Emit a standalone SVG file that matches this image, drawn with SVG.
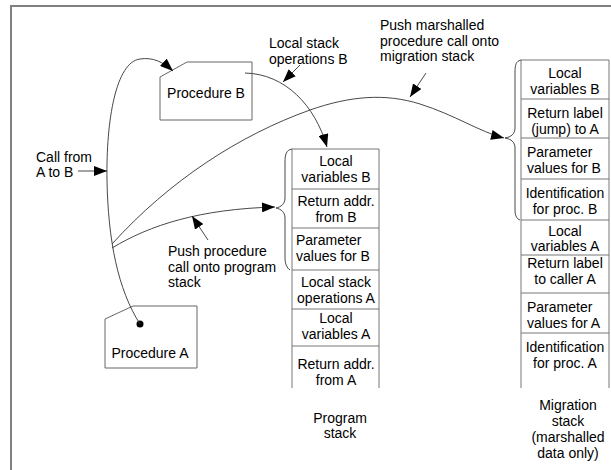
<svg xmlns="http://www.w3.org/2000/svg" width="611" height="470" viewBox="0 0 611 470">
<style>
text{font-family:"Liberation Sans",Arial,sans-serif;font-size:14px;fill:#000}
.c{text-anchor:middle}
.box{fill:#fff;stroke:#666;stroke-width:1}
.st{fill:none;stroke:#777;stroke-width:1}
.ln{fill:none;stroke:#333;stroke-width:0.9}
.ar{fill:none;stroke:#333;stroke-width:0.9;marker-end:url(#ah)}
</style>
<defs>
<marker id="ah" markerUnits="userSpaceOnUse" markerWidth="14" markerHeight="10" refX="13" refY="5" orient="auto">
<path d="M0,0 L13,5 L0,10 Z" fill="#000"/>
</marker>
</defs>
<rect width="611" height="470" fill="#fff"/>
<path d="M11,470 V6 H611" fill="none" stroke="#808080" stroke-width="2"/>

<g id="procedureB">
<polygon class="box" points="160,77 187,62 252,62 252,120 160,120"/>
<text class="c" x="206" y="98">Procedure B</text>
</g>
<g id="procedureA">
<polygon class="box" points="105,319 133,306 197,306 197,368 105,368"/>
<text class="c" x="150" y="358">Procedure A</text>
<circle cx="140" cy="324" r="3.5" fill="#000"/>
</g>

<g id="programStack">
<path class="st" d="M292,388 V149 H379 V388 M292,189 H379 M292,228 H379 M292,270 H379 M292,309 H379 M292,346 H379"/>
<text class="c" x="336" y="166">Local</text>
<text class="c" x="336" y="182">variables B</text>
<text class="c" x="336" y="206">Return addr.</text>
<text class="c" x="336" y="222">from B</text>
<text x="296" y="245">Parameter</text>
<text x="296" y="261">values for B</text>
<text class="c" x="336" y="287">Local stack</text>
<text class="c" x="336" y="303">operations A</text>
<text class="c" x="336" y="323">Local</text>
<text class="c" x="336" y="339">variables A</text>
<text class="c" x="336" y="369">Return addr.</text>
<text class="c" x="336" y="385">from A</text>
<text class="c" x="340" y="423">Program</text>
<text class="c" x="340" y="438">stack</text>
</g>

<g id="migrationStack">
<path class="st" d="M521,388 V60 H609 V388 M521,99 H609 M521,138 H609 M521,179 H609 M521,220 H609 M521,255 H609 M521,293 H609 M521,333 H609"/>
<text class="c" x="565" y="78">Local</text>
<text class="c" x="565" y="94">variables B</text>
<text class="c" x="565" y="118">Return label</text>
<text class="c" x="565" y="134">(jump) to A</text>
<text x="527" y="157">Parameter</text>
<text x="527" y="173">values for B</text>
<text class="c" x="565" y="198">Identification</text>
<text class="c" x="565" y="214">for proc. B</text>
<text class="c" x="565" y="236">Local</text>
<text class="c" x="565" y="251">variables A</text>
<text class="c" x="565" y="268">Return label</text>
<text class="c" x="565" y="284">to caller A</text>
<text x="527" y="312">Parameter</text>
<text x="527" y="328">values for A</text>
<text class="c" x="565" y="352">Identification</text>
<text class="c" x="565" y="368">for proc. A</text>
<text class="c" x="568" y="410">Migration</text>
<text class="c" x="568" y="426">stack</text>
<text class="c" x="568" y="442">(marshalled</text>
<text class="c" x="568" y="458">data only)</text>
</g>

<g id="labels">
<text x="269" y="48">Local stack</text>
<text x="269" y="64">operations B</text>
<text x="380" y="30">Push marshalled</text>
<text x="380" y="46">procedure call onto</text>
<text x="380" y="61">migration stack</text>
<text x="36" y="162">Call from</text>
<text x="36" y="177">A to B</text>
<text x="168" y="256">Push procedure</text>
<text x="168" y="272">call onto program</text>
<text x="168" y="287">stack</text>
</g>

<g id="connectors">
<path class="ar" d="M140,324 C118,290 108,240 107,180 C106,120 116,62 140,59 C153,57 163,62 173,71"/>
<path class="ar" d="M245,73 C285,74 315,105 327,147"/>
<path class="ar" d="M112,244 C170,180 240,135 310,110 C350,96 385,93 420,104 C455,115 480,132 504,138"/>
<path class="ar" d="M112,248 C150,225 200,209 275,207"/>
<path class="ar" d="M78,171 H107"/>
<path class="ar" d="M300,65 L283,82"/>
<path class="ar" d="M426,73 L410,97"/>
<path class="ar" d="M208,240 L192,216"/>
<path class="ln" d="M292,149 C286,150 285,155 285,162 L285,198 C285,204 281,207 276,208 C281,209 285,212 285,218 L285,258 C285,264 287,268 290,270"/>
<path class="ln" d="M521,60 C516,61 515,65 515,72 L515,128 C515,134 511,137 505,138 C511,139 515,142 515,148 L515,210 C515,216 517,219 520,220"/>
</g>
</svg>
